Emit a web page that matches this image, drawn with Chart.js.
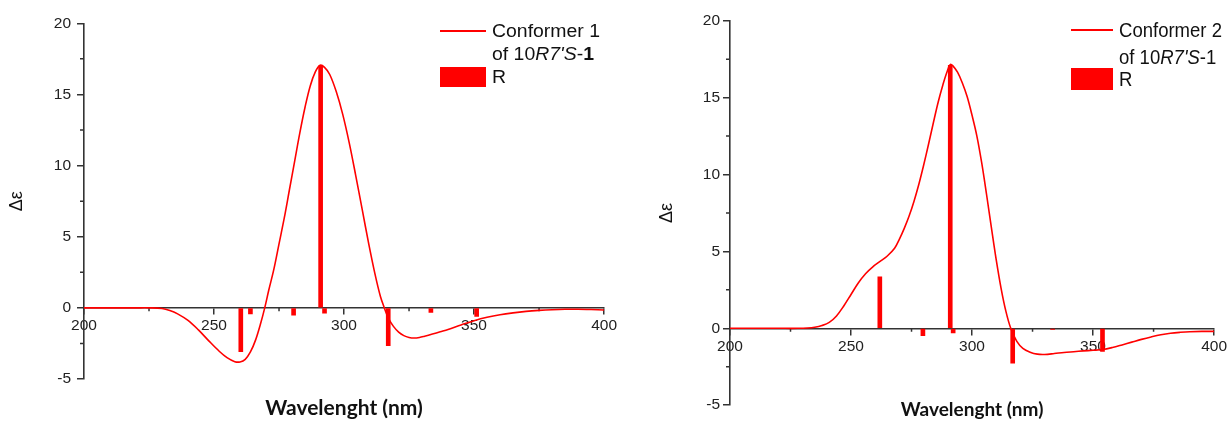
<!DOCTYPE html>
<html>
<head>
<meta charset="utf-8">
<script src="https://cdn.jsdelivr.net/npm/chart.js@4/dist/chart.umd.min.js"></script>
<style>
  body { margin: 0; background: #fff; width: 1230px; height: 421px; position: relative; overflow: hidden; }
  canvas { position: absolute; top: 0; }
  #left { left: 0; }
  #right { left: 620px; }
  .lg { position: absolute; background: #ff0000; }
  .lt { position: absolute; font-family: 'Liberation Sans', Arial, sans-serif; color: #111; white-space: nowrap; line-height: 22px; transform-origin: left center; }
</style>
</head>
<body>
<canvas id="left" width="620" height="421"></canvas>
<canvas id="right" width="610" height="421"></canvas>

<!-- leyenda izquierda -->
<div class="lg" style="left:440px;top:30px;width:46px;height:2px"></div>
<div class="lg" style="left:440px;top:67px;width:46px;height:20px"></div>
<div class="lt" style="left:491.5px;top:20.3px;font-size:18px;transform:scaleX(1.08)">Conformer 1</div>
<div class="lt" style="left:491.5px;top:42.8px;font-size:18px;transform:scaleX(1.08)">of 10<i>R7'S</i>-<b>1</b></div>
<div class="lt" style="left:491.5px;top:65.7px;font-size:18px;transform:scaleX(1.08)">R</div>

<!-- leyenda derecha -->
<div class="lg" style="left:1071px;top:29px;width:42px;height:2px"></div>
<div class="lg" style="left:1071px;top:68px;width:42px;height:22px"></div>
<div class="lt" style="left:1119px;top:19.3px;font-size:19.5px;transform:scaleX(0.95)">Conformer 2</div>
<div class="lt" style="left:1119px;top:45.7px;font-size:19.5px;transform:scaleX(0.95)">of 10<i>R7'S</i>-1</div>
<div class="lt" style="left:1119px;top:67.8px;font-size:19.5px;transform:scaleX(0.95)">R</div>

<script>
// Espectro calculado, conformero 1
const wavelength1 = [200, 210, 220, 225, 230, 233, 236, 240, 244, 248, 252, 255, 258, 260, 262, 264, 266, 268, 269.5, 271, 273, 275, 277, 279, 281, 283, 285, 287, 289, 290.8, 292.5, 294.5, 297, 299.5, 302, 304.5, 307, 309.5, 312, 314, 315.5, 317, 319, 321, 323, 325, 327, 329, 331, 334, 337, 340, 345, 350, 355, 360, 365, 370, 375, 380, 385, 390, 395, 400];
const cd1 = [0, 0, 0, 0, -0.04, -0.18, -0.42, -0.88, -1.55, -2.32, -3.05, -3.5, -3.78, -3.8, -3.62, -3.1, -2.25, -1.05, 0, 1.2, 2.7, 4.5, 6.3, 8.3, 10.3, 12.3, 14.1, 15.6, 16.6, 17.05, 16.9, 16.4, 15.2, 13.6, 11.6, 9.3, 6.9, 4.5, 2.3, 0.8, 0, -0.7, -1.3, -1.7, -1.95, -2.08, -2.12, -2.08, -1.99, -1.84, -1.68, -1.52, -1.2, -0.9, -0.66, -0.48, -0.35, -0.25, -0.18, -0.13, -0.1, -0.1, -0.12, -0.15];
const stickX1 = [260.3, 264, 280.6, 291, 292.5, 317, 333.4, 351];
const stickR1 = [-3.08, -0.42, -0.52, 17.0, -0.37, -2.65, -0.32, -0.6];

// Espectro calculado, conformero 2
const wavelength2 = [200, 210, 220, 228, 232, 235, 238, 241, 244, 247, 250, 253, 256, 259, 262, 265, 268, 270, 272, 274, 276, 278, 280, 282, 284, 286, 288, 289.5, 291, 292, 294, 296, 298, 300, 302, 304, 306, 308, 310, 312, 314, 316, 318.5, 321, 324, 327, 330, 334, 338, 342, 346, 350, 354, 358, 362, 366, 370, 374, 378, 382, 386, 390, 395, 400];
const cd2 = [0, 0, 0, 0, 0.02, 0.07, 0.18, 0.38, 0.8, 1.45, 2.2, 2.95, 3.55, 4.0, 4.35, 4.7, 5.2, 5.8, 6.5, 7.3, 8.25, 9.35, 10.6, 11.95, 13.35, 14.7, 15.85, 16.6, 17.15, 17.08, 16.65, 15.95, 15.05, 13.85, 12.5, 10.75, 8.7, 6.55, 4.45, 2.6, 1.1, 0, -0.85, -1.3, -1.55, -1.68, -1.7, -1.64, -1.57, -1.52, -1.47, -1.43, -1.38, -1.25, -1.08, -0.9, -0.72, -0.56, -0.42, -0.32, -0.26, -0.22, -0.2, -0.2];
const stickX2 = [261.9, 279.7, 291, 292.2, 316.8, 333.3, 353.9];
const stickR2 = [3.35, -0.48, 17.1, -0.3, -2.27, -0.08, -1.5];

// Ejes
const xTicks = [200, 250, 300, 350, 400];
const yTicks = [-5, 0, 5, 10, 15, 20];
const xMinor = [225, 275, 325, 375];
const yMinor = [-2.5, 2.5, 7.5, 12.5, 17.5];

const axisColor = '#333';
const red = '#ff0000';
const tickFont = { family: "'Liberation Sans', Arial, sans-serif", size: 15.5 };

// marcas menores entre las principales
const minorTicks = {
  id: 'minorTicks',
  beforeDatasetsDraw(chart) {
    const { ctx, scales: { x, y } } = chart;
    const y0 = y.getPixelForValue(0);
    ctx.save();
    ctx.strokeStyle = axisColor;
    ctx.lineWidth = 1.5;
    ctx.beginPath();
    xMinor.forEach(v => {
      const px = x.getPixelForValue(v);
      ctx.moveTo(px, y0);
      ctx.lineTo(px, y0 + 3.5);
    });
    yMinor.forEach(v => {
      const py = y.getPixelForValue(v);
      ctx.moveTo(y.right - 4, py);
      ctx.lineTo(y.right, py);
    });
    ctx.stroke();
    ctx.restore();
  }
};

const toPoints = (xs, ys) => xs.map((x, i) => ({ x, y: ys[i] }));

const renderChart = (canvas, opts) => {
  const config = {
    type: 'line',
    data: {
      datasets: [
        {
          type: 'line',
          label: opts.label,
          data: toPoints(opts.wavelength, opts.cd),
          borderColor: red,
          borderWidth: 1.6,
          pointRadius: 0,
          fill: false,
          tension: 0.35,
          xAxisID: 'x',
          yAxisID: 'y',
          order: 1
        },
        {
          type: 'bar',
          label: 'R',
          data: toPoints(opts.stickX, opts.stickR),
          backgroundColor: red,
          borderWidth: 0,
          barThickness: 4,
          xAxisID: 'x',
          yAxisID: 'y',
          order: 2
        }
      ]
    },
    options: {
      responsive: false,
      animation: false,
      devicePixelRatio: 1,
      events: [],
      layout: { padding: { left: 0, right: opts.padRight, top: opts.padTop, bottom: 0 } },
      plugins: { legend: { display: false }, tooltip: { enabled: false } },
      scales: {
        x: {
          type: 'linear',
          position: { y: 0 },
          min: xTicks[0],
          max: xTicks[xTicks.length - 1],
          offset: false,
          grid: { display: true, drawOnChartArea: false, offset: false, tickLength: 6, tickColor: axisColor, lineWidth: 1.5 },
          border: { display: true, color: axisColor, width: 1.6 },
          ticks: { stepSize: 50, padding: 3, color: '#222', font: tickFont, maxRotation: 0 }
        },
        x2: {
          type: 'linear',
          position: 'bottom',
          grid: { display: false, drawTicks: false },
          border: { display: false },
          ticks: { display: false },
          title: {
            display: true,
            text: 'Wavelenght (nm)',
            color: '#111',
            font: { family: 'Lato, sans-serif', size: opts.titleSize, weight: 'bold' },
            padding: { top: 0, bottom: 0 }
          },
          afterFit: (scale) => { scale.height = opts.x2Height; }
        },
        y: {
          type: 'linear',
          position: 'left',
          min: yTicks[0],
          max: yTicks[yTicks.length - 1],
          grid: { display: true, drawOnChartArea: false, tickLength: 7, tickColor: axisColor, lineWidth: 1.5 },
          border: { display: true, color: axisColor, width: 1.6 },
          ticks: { stepSize: 5, padding: opts.yPad, color: '#222', font: tickFont },
          title: {
            display: true,
            text: 'Δε',
            color: '#111',
            font: { family: "'Liberation Sans', Arial, sans-serif", size: 18 },
            padding: { top: opts.yTitlePad, bottom: 0 }
          },
          afterFit: (scale) => { scale.width = opts.yWidth; }
        }
      }
    },
    plugins: [minorTicks]
  };

  new Chart(canvas, config);
};

renderChart(document.querySelector('#left'), {
  label: 'Conformer 1',
  wavelength: wavelength1, cd: cd1, stickX: stickX1, stickR: stickR1,
  padRight: 13.3, padTop: 23.3, x2Height: 42, yWidth: 84, yPad: 6, yTitlePad: 6.7, titleSize: 21
});

renderChart(document.querySelector('#right'), {
  label: 'Conformer 2',
  wavelength: wavelength2, cd: cd2, stickX: stickX2, stickR: stickR2,
  padRight: 14, padTop: 20.7, x2Height: 15.8, yWidth: 110, yPad: 3, yTitlePad: 35.9, titleSize: 19
});
</script>
</body>
</html>
